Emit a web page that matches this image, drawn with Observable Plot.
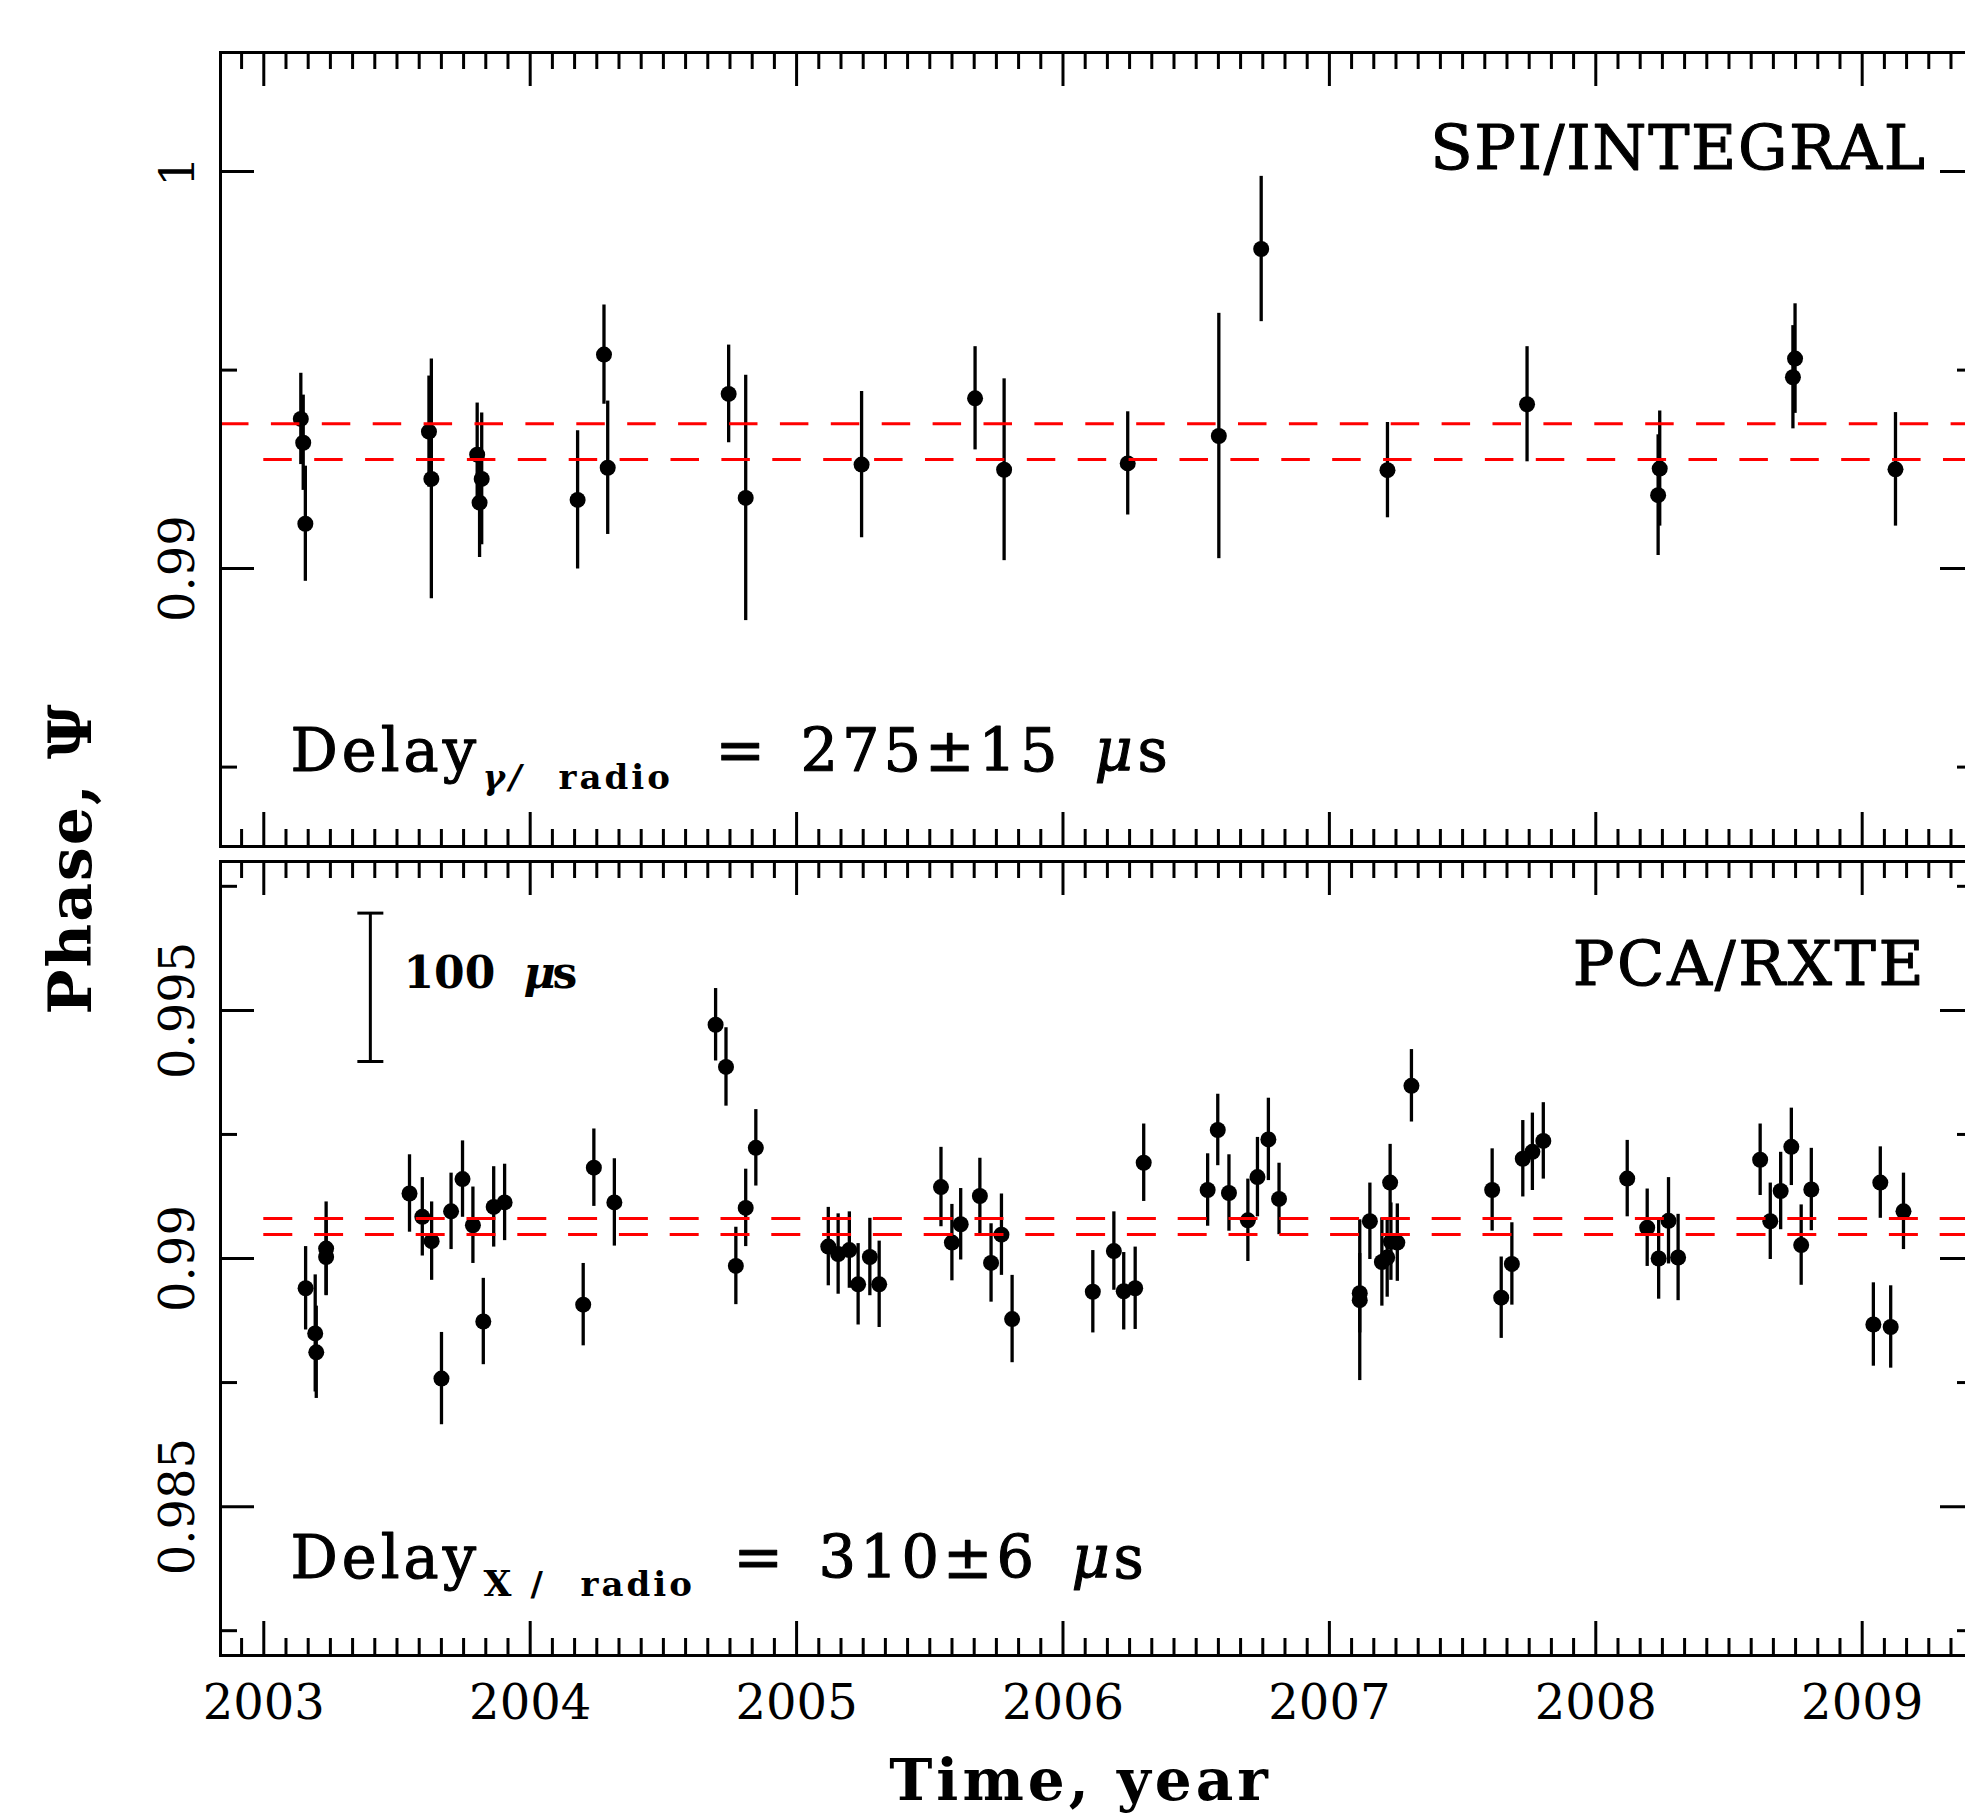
<!DOCTYPE html>
<html>
<head>
<meta charset="utf-8">
<script src="https://cdn.jsdelivr.net/npm/d3@7"></script>
<script src="https://cdn.jsdelivr.net/npm/@observablehq/plot@0.6"></script>
<style>
html, body { margin: 0; padding: 0; background: #fff; overflow: hidden; }
#chart { position: relative; width: 1965px; height: 1815px; overflow: hidden; background: #fff; }
#chart svg { position: absolute; left: 0; }
</style>
</head>
<body>
<div id="chart"></div>
<script>
// ---------- DATA ----------
// SPI / INTEGRAL (top panel)
const spiYear  = [2003.139, 2003.148, 2003.156, 2003.620, 2003.629, 2003.801, 2003.810, 2003.818,
                  2004.178, 2004.277, 2004.291, 2004.745, 2004.809, 2005.244, 2005.670, 2005.779,
                  2006.243, 2006.585, 2006.744, 2007.218, 2007.742, 2008.234, 2008.240, 2008.740,
                  2008.748, 2009.125];
const spiPhase = [0.99377, 0.99317, 0.99113, 0.99345, 0.99226, 0.99287, 0.99166, 0.99226,
                  0.99173, 0.99539, 0.99254, 0.99440, 0.99178, 0.99262, 0.99429, 0.99249,
                  0.99265, 0.99334, 0.99805, 0.99248, 0.99414, 0.99185, 0.99252, 0.99482,
                  0.99529, 0.99250];
const spiErr   = [0.00115, 0.00120, 0.00145, 0.00140, 0.00302, 0.00130, 0.00138, 0.00166,
                  0.00174, 0.00125, 0.00168, 0.00123, 0.00309, 0.00184, 0.00130, 0.00229,
                  0.00130, 0.00309, 0.00183, 0.00120, 0.00145, 0.00152, 0.00145, 0.00130,
                  0.00138, 0.00143];

// PCA / RXTE (bottom panel)
const pcaYear  = [2003.157, 2003.193, 2003.197, 2003.234, 2003.234, 2003.547, 2003.595, 2003.630,
                  2003.667, 2003.703, 2003.746, 2003.785, 2003.824, 2003.863, 2003.904, 2004.199,
                  2004.239, 2004.316, 2004.696, 2004.735, 2004.772, 2004.809, 2004.847, 2005.119,
                  2005.156, 2005.198, 2005.231, 2005.275, 2005.310, 2005.542, 2005.583, 2005.616,
                  2005.688, 2005.730, 2005.769, 2005.809, 2006.112, 2006.191, 2006.228, 2006.271,
                  2006.303, 2006.543, 2006.581, 2006.623, 2006.694, 2006.730, 2006.771, 2006.811,
                  2007.114, 2007.114, 2007.152, 2007.197, 2007.217, 2007.228, 2007.231, 2007.255,
                  2007.308, 2007.611, 2007.645, 2007.685, 2007.726, 2007.762, 2007.803, 2008.118,
                  2008.193, 2008.236, 2008.273, 2008.309, 2008.617, 2008.655, 2008.694, 2008.734,
                  2008.771, 2008.809, 2009.042, 2009.068, 2009.107, 2009.155];
const pcaPhase = [0.98940, 0.98849, 0.98811, 0.99020, 0.99003, 0.99131, 0.99084, 0.99035,
                  0.98758, 0.99095, 0.99160, 0.99067, 0.98873, 0.99104, 0.99113, 0.98907,
                  0.99183, 0.99113, 0.99471, 0.99386, 0.98985, 0.99102, 0.99223, 0.99024,
                  0.99009, 0.99017, 0.98948, 0.99003, 0.98948, 0.99144, 0.99032, 0.99069,
                  0.99126, 0.98991, 0.99048, 0.98878, 0.98933, 0.99015, 0.98934, 0.98940,
                  0.99193, 0.99138, 0.99259, 0.99132, 0.99077, 0.99164, 0.99240, 0.99120,
                  0.98930, 0.98916, 0.99075, 0.98993, 0.99002, 0.99153, 0.99034, 0.99032,
                  0.99348, 0.99138, 0.98921, 0.98989, 0.99201, 0.99215, 0.99237, 0.99161,
                  0.99062, 0.99000, 0.99076, 0.99002, 0.99199, 0.99075, 0.99136, 0.99225,
                  0.99027, 0.99139, 0.98867, 0.99153, 0.98862, 0.99095];
const pcaErr   = [0.00084, 0.00118, 0.00093, 0.00094, 0.00078, 0.00078, 0.00079, 0.00079,
                  0.00093, 0.00077, 0.00077, 0.00077, 0.00087, 0.00081, 0.00077, 0.00083,
                  0.00078, 0.00088, 0.00073, 0.00079, 0.00078, 0.00078, 0.00077, 0.00079,
                  0.00081, 0.00077, 0.00082, 0.00078, 0.00087, 0.00080, 0.00077, 0.00072,
                  0.00076, 0.00079, 0.00082, 0.00088, 0.00083, 0.00079, 0.00078, 0.00083,
                  0.00078, 0.00073, 0.00072, 0.00077, 0.00083, 0.00080, 0.00083, 0.00072,
                  0.00080, 0.00162, 0.00077, 0.00089, 0.00080, 0.00077, 0.00078, 0.00078,
                  0.00073, 0.00083, 0.00082, 0.00083, 0.00077, 0.00078, 0.00077, 0.00077,
                  0.00078, 0.00082, 0.00087, 0.00087, 0.00072, 0.00077, 0.00078, 0.00078,
                  0.00081, 0.00083, 0.00084, 0.00072, 0.00083, 0.00077];

// delay bands (phase of the mean delay ± error)
const spiBand = [0.99365, 0.99275];
const pcaBand = [0.990805, 0.990483];

// axes
const yearLabels = [2003, 2004, 2005, 2006, 2007, 2008, 2009];
const spiYTicks = [1, 0.99];
const spiYTickLabels = ["1", "0.99"];
const spiYMinor = [0.995, 0.985];
const pcaYTicks = [0.995, 0.99, 0.985];
const pcaYTickLabels = ["0.995", "0.99", "0.985"];
const pcaYMinor = [0.9975, 0.9925, 0.9875, 0.9825];
const spiYDomain = [0.983, 1.003];
const pcaYDomain = [0.982, 0.998];
const xDomain = [2002.8375, 2009.4216];

// 100 µs scale bar
const scaleBarYear = [2003.40];
const scaleBarLo = [0.99397];
const scaleBarHi = [0.99696];
const scaleBarLabel = "100";

// ---------- LAYOUT ----------
const W = 2000, ML = 220, MR = 26, FH = 794;
const FW = W - ML - MR;
const MAJ = 34, MIN = 17, SW = 3;
const FONT = "DejaVu Serif";
const HEAVY = {stroke: "black", strokeWidth: 1.1};

const months = d3.range(0, 80).map(i => 2002 + 11 / 12 + i / 12).filter(t => t <= xDomain[1]);
const isYear = t => Math.abs(t - Math.round(t)) < 1e-6;
const xMajor = months.filter(isYear);
const xMinor = months.filter(t => !isYear(t));

function frameTicks(yMajor, yMinor) {
  return [
    Plot.tickX(xMajor, {x: d => d, insetTop: FH - MAJ, strokeWidth: SW}),
    Plot.tickX(xMinor, {x: d => d, insetTop: FH - MIN, strokeWidth: SW}),
    Plot.tickX(xMajor, {x: d => d, insetBottom: FH - MAJ, strokeWidth: SW}),
    Plot.tickX(xMinor, {x: d => d, insetBottom: FH - MIN, strokeWidth: SW}),
    Plot.tickY(yMajor, {y: d => d, insetRight: FW - MAJ, strokeWidth: SW}),
    Plot.tickY(yMinor, {y: d => d, insetRight: FW - MIN, strokeWidth: SW}),
    Plot.tickY(yMajor, {y: d => d, insetLeft: FW - MAJ, strokeWidth: SW}),
    Plot.tickY(yMinor, {y: d => d, insetLeft: FW - MIN, strokeWidth: SW}),
    Plot.frame({strokeWidth: SW})
  ];
}

function dataMarks(years, phases, errs) {
  const rows = years.map((t, i) => ({t, v: phases[i], e: errs[i]}));
  return [
    Plot.ruleX(rows, {x: "t", y1: d => d.v - d.e, y2: d => d.v + d.e, stroke: "black", strokeWidth: 3.3}),
    Plot.dot(rows, {x: "t", y: "v", r: 8, fill: "black", stroke: "none"})
  ];
}

function txt(s, o) {
  return Plot.text([s], {text: d => d, textAnchor: "start", lineAnchor: "bottom", fill: "black", ...o});
}

const hbar = {draw(context, size) { const r = Math.sqrt(size / Math.PI); context.moveTo(-r, 0); context.lineTo(r, 0); }};

// ---------- TOP PANEL ----------
const topH = 1020;
const topPlot = Plot.plot({
  width: W, height: topH,
  marginLeft: ML, marginRight: MR, marginTop: 52, marginBottom: topH - 52 - FH,
  x: {type: "linear", domain: xDomain, axis: null},
  y: {type: "linear", domain: spiYDomain, axis: null},
  style: {fontFamily: FONT, background: "white", maxWidth: "none", overflow: "visible"},
  marks: [
    ...dataMarks(spiYear, spiPhase, spiErr),
    Plot.ruleY([{y: spiBand[0], x1: xDomain[0]}, {y: spiBand[1], x1: 2003}],
      {y: "y", x1: "x1", x2: xDomain[1], stroke: "#ff0000", strokeWidth: 3, strokeDasharray: "28.5 22.4"}),
    ...frameTicks(spiYTicks, spiYMinor),
    Plot.text(spiYTicks, {y: d => d, text: (d, i) => spiYTickLabels[i], frameAnchor: "left", dx: -27,
      rotate: -90, textAnchor: "middle", lineAnchor: "bottom", fontSize: 48}),
    Plot.text(["Phase, Ψ"], {text: d => d, frameAnchor: "left", dx: -130, dy: 409, rotate: -90,
      textAnchor: "middle", lineAnchor: "bottom", fontSize: 60, fontWeight: "bold"}),
    txt("SPI/INTEGRAL", {frameAnchor: "top-right", textAnchor: "end", dx: -48, dy: 116, fontSize: 62, ...HEAVY}),
    txt("Delay", {frameAnchor: "bottom-left", dx: 70, dy: -76, fontSize: 59, ...HEAVY}),
    txt("γ/", {frameAnchor: "bottom-left", dx: 262, dy: -58, fontSize: 34, fontWeight: "bold", fontStyle: "italic"}),
    txt("radio", {frameAnchor: "bottom-left", dx: 338, dy: -58, fontSize: 34, fontWeight: "bold"}),
    txt("=", {frameAnchor: "bottom-left", dx: 495, dy: -76, fontSize: 59, ...HEAVY}),
    txt("275±15", {frameAnchor: "bottom-left", dx: 580, dy: -76, fontSize: 59, ...HEAVY}),
    txt("μ", {frameAnchor: "bottom-left", dx: 874, dy: -76, fontSize: 59, fontStyle: "italic", ...HEAVY}),
    txt("s", {frameAnchor: "bottom-left", dx: 917, dy: -76, fontSize: 59, ...HEAVY})
  ]
});

// ---------- BOTTOM PANEL ----------
const botH = 962, botTop = 853;
const botPlot = Plot.plot({
  width: W, height: botH,
  marginLeft: ML, marginRight: MR, marginTop: 8, marginBottom: botH - 8 - FH,
  x: {type: "linear", domain: xDomain, axis: null},
  y: {type: "linear", domain: pcaYDomain, axis: null},
  style: {fontFamily: FONT, background: "transparent", maxWidth: "none"},
  marks: [
    ...dataMarks(pcaYear, pcaPhase, pcaErr),
    Plot.ruleY([{y: pcaBand[0], x1: 2003}, {y: pcaBand[1], x1: 2003}],
      {y: "y", x1: "x1", x2: xDomain[1], stroke: "#ff0000", strokeWidth: 3, strokeDasharray: "29 21.8"}),
    ...frameTicks(pcaYTicks, pcaYMinor),
    Plot.ruleX(scaleBarYear, {x: d => d, y1: (d, i) => scaleBarLo[i], y2: (d, i) => scaleBarHi[i], stroke: "black", strokeWidth: 3}),
    Plot.dot([...scaleBarLo, ...scaleBarHi], {x: () => scaleBarYear[0], y: d => d, symbol: hbar, r: 13, stroke: "black", strokeWidth: 3, fill: "none"}),
    txt(scaleBarLabel, {frameAnchor: "top-left", dx: 183, dy: 126, fontSize: 44, fontWeight: "bold"}),
    txt("μ", {frameAnchor: "top-left", dx: 303, dy: 126, fontSize: 44, fontWeight: "bold", fontStyle: "italic"}),
    txt("s", {frameAnchor: "top-left", dx: 332, dy: 126, fontSize: 44, fontWeight: "bold"}),
    Plot.text(pcaYTicks, {y: d => d, text: (d, i) => pcaYTickLabels[i], frameAnchor: "left", dx: -27,
      rotate: -90, textAnchor: "middle", lineAnchor: "bottom", fontSize: 48}),
    Plot.text(yearLabels, {x: d => d, text: d => String(d), frameAnchor: "bottom", lineAnchor: "bottom", dy: 63, fontSize: 48}),
    Plot.text(["Time, year"], {text: d => d, frameAnchor: "bottom", lineAnchor: "bottom", dx: -17, dy: 144, fontSize: 58, fontWeight: "bold"}),
    txt("PCA/RXTE", {frameAnchor: "top-right", textAnchor: "end", dx: -48, dy: 123, fontSize: 62, ...HEAVY}),
    txt("Delay", {frameAnchor: "bottom-left", dx: 70, dy: -78, fontSize: 59, ...HEAVY}),
    txt("X", {frameAnchor: "bottom-left", dx: 263, dy: -60, fontSize: 36, fontWeight: "bold"}),
    txt("/", {frameAnchor: "bottom-left", dx: 310, dy: -60, fontSize: 34, fontWeight: "bold"}),
    txt("radio", {frameAnchor: "bottom-left", dx: 360, dy: -60, fontSize: 34, fontWeight: "bold"}),
    txt("=", {frameAnchor: "bottom-left", dx: 513, dy: -78, fontSize: 59, ...HEAVY}),
    txt("310±6", {frameAnchor: "bottom-left", dx: 598, dy: -78, fontSize: 59, ...HEAVY}),
    txt("μ", {frameAnchor: "bottom-left", dx: 851, dy: -78, fontSize: 59, fontStyle: "italic", ...HEAVY}),
    txt("s", {frameAnchor: "bottom-left", dx: 893, dy: -78, fontSize: 59, ...HEAVY})
  ]
});

// letter spacing to match the wide plotting-package lettering
const spacing = {"Delay": 4, "275±15": 4, "310±6": 4, "radio": 3, "γ/": 4,
                 "SPI/INTEGRAL": 1.6, "PCA/RXTE": 2.7, "Time, year": 4, "Phase, Ψ": 2};
for (const svg of [topPlot, botPlot]) {
  svg.querySelectorAll("text").forEach(t => {
    const s = t.textContent;
    if (Object.prototype.hasOwnProperty.call(spacing, s)) t.style.letterSpacing = spacing[s] + "px";
  });
}

topPlot.style.top = "0px";
botPlot.style.top = botTop + "px";
const chart = document.getElementById("chart");
chart.appendChild(topPlot);
chart.appendChild(botPlot);
</script>
</body>
</html>
